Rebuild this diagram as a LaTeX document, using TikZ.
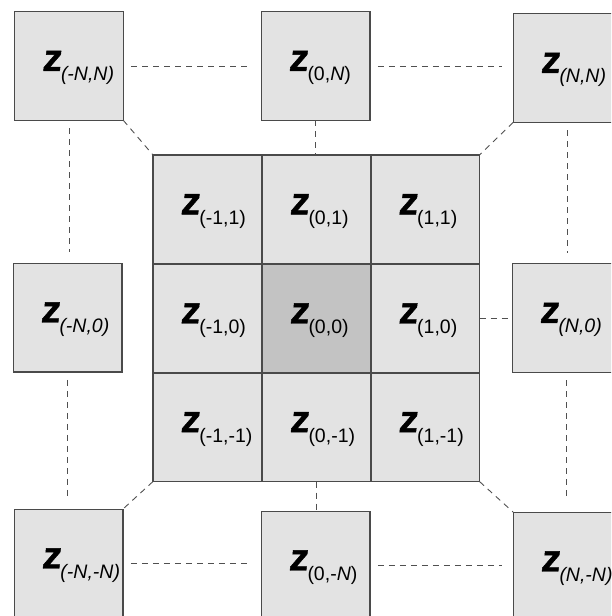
\documentclass[tikz,border=0pt]{standalone}
\usepackage{fontspec}
\setmainfont{Liberation Sans}
\newfontfamily\zfont{Liberation Sans}[BoldFeatures={FakeSlant=0.12,FakeBold=1.2}]
\definecolor{celda}{HTML}{E3E3E3}
\definecolor{centro}{HTML}{C3C3C3}
\definecolor{borde}{HTML}{4A4A4A}
\definecolor{trazo}{HTML}{505050}
\newcommand{\zsub}[1]{\rule{0pt}{24pt}{\zfont\fontsize{38}{40}\selectfont\bfseries z}\raisebox{-10pt}{\fontsize{19.5}{21}\selectfont #1}}
\begin{document}
\begin{tikzpicture}[x=1pt,y=-1pt,
    caja/.style={draw=borde,line width=1.3pt,fill=celda,minimum size=108.7pt,inner sep=0pt,outer sep=0pt,
        text width=54pt,align=left},
    enlace/.style={draw=trazo,line width=0.9pt,dash pattern=on 6pt off 5pt},
    hueco/.style={shorten <=8pt,shorten >=11pt}]
    \useasboundingbox (0,0) rectangle (611,616);
    \clip (0,0) rectangle (611,616);

    % Bloque central 3x3
    \foreach \i/\cx in {-1/207.3,0/316.5,1/425.2}
        \foreach \j/\cy in {1/209.3,0/318.5,-1/427.2}{
            \pgfmathtruncatemacro\dist{abs(\i)+abs(\j)}
            \ifnum\dist=0 \def\relleno{centro}\else\def\relleno{celda}\fi
            \node[caja,fill=\relleno] (c\i\j) at (\cx,\cy) {\zsub{(\i,\j)}};
        }

    % Bloques exteriores
    \node[caja] (bNO) at (69,66) {\zsub{\textit{(-N,N)}}};
    \node[caja] (bN) at (315.5,66) {\zsub{(0,\textit{N})}};
    \node[caja] (bNE) at (567.5,68) {\zsub{\textit{(N,N)}}};
    \node[caja] (bO) at (67.5,317.5) {\zsub{\textit{(-N,0)}}};
    \node[caja] (bE) at (566.5,318) {\zsub{\textit{(N,0)}}};
    \node[caja] (bSO) at (68.5,563.5) {\zsub{\textit{(-N,-N)}}};
    \node[caja] (bS) at (315.5,565.5) {\zsub{(0,-\textit{N})}};
    \node[caja] (bSE) at (567.5,566.5) {\zsub{\textit{(N,-N)}}};

    % Enlaces entre bloques exteriores
    \draw[enlace,hueco] (bNO.east) -- (bNO.east -| bN.west);
    \draw[enlace,hueco] (bN.east) -- (bN.east -| bNE.west);
    \draw[enlace,hueco] (bSO.east) -- (bSO.east -| bS.west);
    \draw[enlace,hueco] (bS.east) -- (bS.east -| bSE.west);
    \draw[enlace,hueco] (bNO.south) -- (bNO.south |- bO.north);
    \draw[enlace,hueco] (bO.south) -- (bO.south |- bSO.north);
    \draw[enlace,hueco] (bNE.south) -- (bNE.south |- bE.north);
    \draw[enlace,hueco] (bE.south) -- (bE.south |- bSE.north);

    % Enlaces con el bloque central
    \draw[enlace] (bN.south) -- (bN.south |- c01.north);
    \draw[enlace] (c0-1.south) -- (c0-1.south |- bS.north);
    \draw[enlace] (c10.east) -- (c10.east -| bE.west);
    \draw[enlace] (bNO.south east) -- (c-11.north west);
    \draw[enlace] (bNE.south west) -- (c11.north east);
    \draw[enlace] (c-1-1.south west) -- (bSO.north east);
    \draw[enlace] (c1-1.south east) -- (bSE.north west);
\end{tikzpicture}
\end{document}
